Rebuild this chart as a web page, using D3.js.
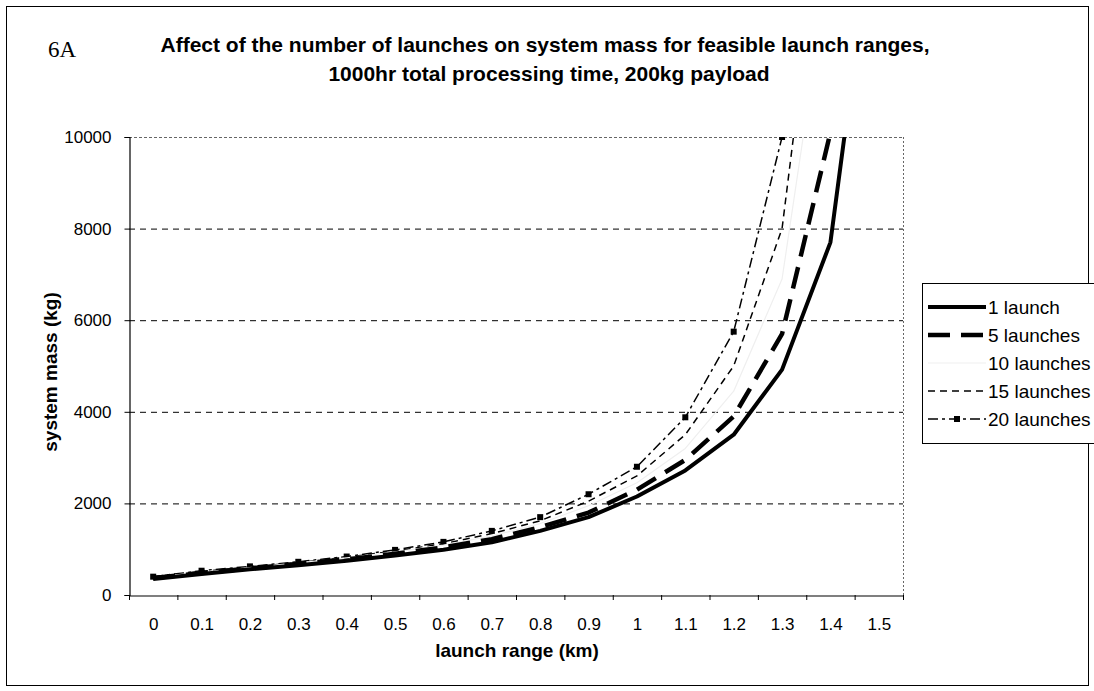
<!DOCTYPE html>
<html><head><meta charset="utf-8">
<script src="https://cdn.jsdelivr.net/npm/d3@7/dist/d3.min.js"></script>
<style>body{margin:0;background:#fff}svg{display:block;font-family:"Liberation Sans",Arial,sans-serif}</style>
</head><body><svg id="c" width="1094" height="691"></svg>
<script>
const categories = ["0","0.1","0.2","0.3","0.4","0.5","0.6","0.7","0.8","0.9","1","1.1","1.2","1.3","1.4","1.5"];
const launch1  = [350,460,560,650,750,860,990,1150,1400,1700,2150,2720,3500,4920,7700,15700];
const launch5  = [370,480,580,680,780,900,1040,1220,1480,1800,2300,2950,3900,5700,10100,18000];
const launch10 = [385,500,600,700,810,940,1090,1290,1560,1950,2450,3200,4450,6900,14000,25000];
const launch15 = [395,515,610,710,825,960,1120,1340,1620,2050,2600,3500,5000,8000,16500,30000];
const launch20 = [400,530,625,725,840,985,1160,1400,1700,2200,2800,3880,5750,10000,20000,40000];
const yTicks = [0,2000,4000,6000,8000,10000];
const seriesNames = ["1 launch","5 launches","10 launches","15 launches","20 launches"];

const series = [
  {name:seriesNames[0], values:launch1,  color:"#000", width:4,   dash:null,        marker:false},
  {name:seriesNames[1], values:launch5,  color:"#000", width:4.5, dash:"22,11",     marker:false},
  {name:seriesNames[2], values:launch10, color:"#efefef", width:1.2, dash:null,     marker:false},
  {name:seriesNames[3], values:launch15, color:"#000", width:1.5, dash:"7,5",       marker:false},
  {name:seriesNames[4], values:launch20, color:"#000", width:1.5, dash:"10,4,3,4",  marker:true}
];

const svg = d3.select("#c");
const L = 129, R = 903, T = 137, B = 595;
const FONT = "Liberation Sans, Arial, sans-serif";

svg.append("rect").attr("x",6.5).attr("y",6.5).attr("width",1082).attr("height",679)
  .attr("fill","none").attr("stroke","#000").attr("stroke-width",1);

const x = d3.scalePoint().domain(categories).range([L, R]).padding(0.5);
const xb = d3.scaleBand().domain(categories).range([L, R]);
const y = d3.scaleLinear().domain([0,10000]).range([B, T]);

// gridlines
svg.append("g").selectAll("line").data(yTicks.filter(d=>d>0)).join("line")
  .attr("x1",L).attr("x2",R).attr("y1",d=>y(d)+0.5).attr("y2",d=>y(d)+0.5)
  .attr("stroke",d=>d===10000?"#666":"#000").attr("stroke-width",1)
  .attr("stroke-dasharray",d=>d===10000?"3,2":"6,5");
// right border
svg.append("line").attr("x1",R+0.5).attr("x2",R+0.5).attr("y1",T).attr("y2",B)
  .attr("stroke","#666").attr("stroke-dasharray","2,2");

// clip
svg.append("clipPath").attr("id","clip").append("rect").attr("x",L).attr("y",T).attr("width",R-L).attr("height",B-T);

const line = d3.line().x((d,i)=>x(categories[i])).y(d=>y(d));
const g = svg.append("g").attr("clip-path","url(#clip)");
series.slice().reverse().forEach(s=>{
  g.append("path").datum(s.values).attr("d",line).attr("fill","none")
    .attr("stroke",s.color).attr("stroke-width",s.width)
    .attr("stroke-dasharray",s.dash).attr("stroke-linejoin","round");
  if(s.marker){
    g.selectAll(null).data(s.values.map((v,i)=>({v,i})).filter(d=>d.v<=10000)).join("rect")
      .attr("x",d=>x(categories[d.i])-3).attr("y",d=>y(d.v)-3).attr("width",6).attr("height",6).attr("fill","#000");
  }
});

// axes
const yAxis = d3.axisLeft(y).tickValues(yTicks).tickSize(5).tickPadding(13).tickFormat(d3.format("d"));
const ya = svg.append("g").attr("transform",`translate(${L+0.5},0)`).call(yAxis);
ya.select(".domain").attr("stroke","#000").attr("stroke-width",1.2);
ya.selectAll("text").attr("font-size",17).attr("fill","#000").attr("font-family",FONT);

const xAxis = d3.axisBottom(x).tickSize(0).tickPadding(22);
const xa = svg.append("g").attr("transform",`translate(0,${B+0.5})`).call(xAxis);
xa.select(".domain").attr("stroke","#000").attr("stroke-width",1.2);
xa.selectAll("text").attr("font-size",17).attr("fill","#000").attr("font-family",FONT);
svg.append("g").selectAll("line").data(categories.concat(["end"])).join("line")
  .attr("x1",(d,i)=>i<categories.length?xb(d)+0.5:R+0.5).attr("x2",(d,i)=>i<categories.length?xb(d)+0.5:R+0.5)
  .attr("y1",B).attr("y2",B+5).attr("stroke","#000");

// axis titles
svg.append("text").attr("x",517).attr("y",657).attr("text-anchor","middle")
  .attr("font-size",19).attr("font-weight","bold").text("launch range (km)");
svg.append("text").attr("transform",`translate(57,${372}) rotate(-90)`).attr("text-anchor","middle")
  .attr("font-size",19).attr("font-weight","bold").text("system mass (kg)");

// titles
svg.append("text").attr("x",48).attr("y",57).attr("font-family","Liberation Serif, Times New Roman, serif")
  .attr("font-size",23).text("6A");
svg.append("text").attr("x",545).attr("y",52).attr("text-anchor","middle").attr("font-size",21).attr("font-weight","bold")
  .text("Affect of the number of launches on system mass for feasible launch ranges,");
svg.append("text").attr("x",549).attr("y",81).attr("text-anchor","middle").attr("font-size",21).attr("font-weight","bold")
  .text("1000hr total processing time, 200kg payload");

// legend
const lg = svg.append("g");
lg.append("rect").attr("x",922.5).attr("y",283.5).attr("width",200).attr("height",160)
  .attr("fill","#fff").attr("stroke","#000");
series.forEach((s,i)=>{
  const yy = 307 + i*28;
  lg.append("line").attr("x1",928).attr("x2",986).attr("y1",yy).attr("y2",yy)
    .attr("stroke",s.color).attr("stroke-width",s.width).attr("stroke-dasharray",s.dash);
  if(s.marker) lg.append("rect").attr("x",954).attr("y",yy-3).attr("width",6).attr("height",6).attr("fill","#000");
  lg.append("text").attr("x",988).attr("y",yy+7).attr("font-size",19).text(s.name);
});
</script></body></html>
